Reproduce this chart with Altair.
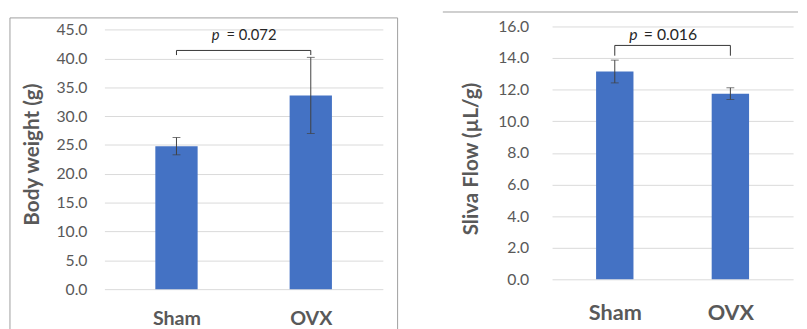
import altair as alt
import pandas as pd

# ---- data ----
groups = ["Sham", "OVX"]

bw_mean = [24.8, 33.6]
bw_err = [1.5, 6.6]
bw_p_label = "p"
bw_p_value = "= 0.072"
bw_bracket = [41.4, 40.6]      # top level, lower end of the legs
bw_text_y = 44.05
bw_ticks = [0, 5, 10, 15, 20, 25, 30, 35, 40, 45]

sf_mean = [13.15, 11.75]
sf_err = [0.72, 0.37]
sf_p_label = "p"
sf_p_value = "= 0.016"
sf_bracket = [14.8, 14.15]
sf_text_y = 15.48
sf_ticks = [0, 2, 4, 6, 8, 10, 12, 14, 16]

FONT = "Lato"
GRAY = "#595959"
BLUE = "#4472C4"
FRAME = "#9E9E9E"


def panel(mean, err, bracket, text_y, p_label, p_value, ticks, ymax, title,
          width, height, bar_size, label_size, x_label_pad, y_label_pad,
          title_x, title_y, p_dx, val_dx, p_size, frame):
    pos = [i + 0.5 for i in range(len(groups))]
    df = pd.DataFrame({
        "group": groups,
        "pos": pos,
        "mean": mean,
        "lo": [m - e for m, e in zip(mean, err)],
        "hi": [m + e for m, e in zip(mean, err)],
    })
    xs = alt.Scale(domain=[0, len(groups)], nice=False, zero=False)
    ys = alt.Scale(domain=[0, ymax], nice=False, zero=True)
    label_expr = f"datum.value < 1 ? '{groups[0]}' : '{groups[1]}'"
    xaxis = alt.Axis(
        values=pos, labelExpr=label_expr, title=None, grid=False, domain=False,
        ticks=False, tickSize=0, labelFont=FONT, labelFontSize=label_size,
        labelFontWeight="bold", labelColor=GRAY, labelPadding=x_label_pad,
        labelBaseline="alphabetic")
    yaxis = alt.Axis(
        values=ticks, format=".1f", title=title, grid=True, gridColor="#D9D9D9",
        gridWidth=1, domain=False, ticks=False, tickSize=0, labelFont=FONT,
        labelFontSize=16, labelColor=GRAY, labelPadding=y_label_pad,
        titleFont=FONT, titleFontSize=21, titleFontWeight="bold", titleColor=GRAY,
        titleAngle=270, titleX=title_x, titleY=title_y, titleBaseline="middle",
        titleAlign="center")

    def X(f):
        return alt.X(f, scale=xs, axis=xaxis)

    def Y(f):
        return alt.Y(f, scale=ys, axis=yaxis)

    bars = alt.Chart(df).mark_bar(size=bar_size, color=BLUE, orient="vertical").encode(
        x=X("pos:Q"), y=Y("mean:Q"))

    err_rule = alt.Chart(df).mark_rule(color="#404040", strokeWidth=1).encode(
        x=X("pos:Q"), y=Y("lo:Q"), y2="hi:Q")
    cap_lo = alt.Chart(df).mark_tick(orient="horizontal", size=8, thickness=1, color="#404040").encode(
        x=X("pos:Q"), y=Y("lo:Q"))
    cap_hi = alt.Chart(df).mark_tick(orient="horizontal", size=8, thickness=1, color="#404040").encode(
        x=X("pos:Q"), y=Y("hi:Q"))

    br_h = pd.DataFrame({"pos": [pos[0]], "x2": [pos[1]], "top": [bracket[0]]})
    br_v = pd.DataFrame({"pos": pos, "top": [bracket[0]] * 2, "bot": [bracket[1]] * 2})
    bracket_h = alt.Chart(br_h).mark_rule(color="#333333", strokeWidth=1).encode(
        x=X("pos:Q"), x2="x2:Q", y=Y("top:Q"))
    bracket_v = alt.Chart(br_v).mark_rule(color="#333333", strokeWidth=1).encode(
        x=X("pos:Q"), y=Y("top:Q"), y2="bot:Q")

    tdf = pd.DataFrame({"pos": [sum(pos) / len(pos)], "y": [text_y],
                        "p": [p_label], "v": [p_value]})
    t_p = alt.Chart(tdf).mark_text(font=FONT, fontSize=p_size, fontStyle="italic",
                                   align="right", baseline="middle", dx=p_dx,
                                   color="#262626").encode(
        x=X("pos:Q"), y=Y("y:Q"), text="p:N")
    t_v = alt.Chart(tdf).mark_text(font=FONT, fontSize=p_size, align="left",
                                   baseline="middle", dx=val_dx, color="#262626").encode(
        x=X("pos:Q"), y=Y("y:Q"), text="v:N")

    layers = [bars, err_rule, cap_lo, cap_hi, bracket_h, bracket_v, t_p, t_v]
    one = pd.DataFrame({"a": [0]})
    for spec in frame:
        layers.append(alt.Chart(one).mark_rule(color=FRAME, strokeWidth=1).encode(**spec))
    return alt.layer(*layers).properties(width=width, height=height)


left_frame = [
    dict(x=alt.value(-96), y=alt.value(-8.7), y2=alt.value(320)),
    dict(x=alt.value(-96), x2=alt.value(298), y=alt.value(-8.7)),
    dict(x=alt.value(298), y=alt.value(-8.7), y2=alt.value(320)),
]
right_frame = [
    dict(x=alt.value(-111), x2=alt.value(250), y=alt.value(-14.7)),
]

left = panel(bw_mean, bw_err, bw_bracket, bw_text_y, bw_p_label, bw_p_value, bw_ticks,
             45.56, "Body weight (g)", 283, 267, 43, 20, 36.3, 17.7,
             -73, 129.8, -24.5, -17.5, 15, left_frame)
right = panel(sf_mean, sf_err, sf_bracket, sf_text_y, sf_p_label, sf_p_value, sf_ticks,
              16, "Sliva Flow (µL/g)", 245, 257, 38, 22, 40.7, 23.7,
              -82, 134.3, -35.5, -29.3, 16, right_frame)

chart = alt.hconcat(left, right, spacing=172, bounds="flush").properties(
    padding={"left": 1, "top": 0, "right": 0, "bottom": 0},
    background="white",
).configure_view(stroke=None)

chart.save("out.html", embed_options={"renderer": "svg", "actions": False})
